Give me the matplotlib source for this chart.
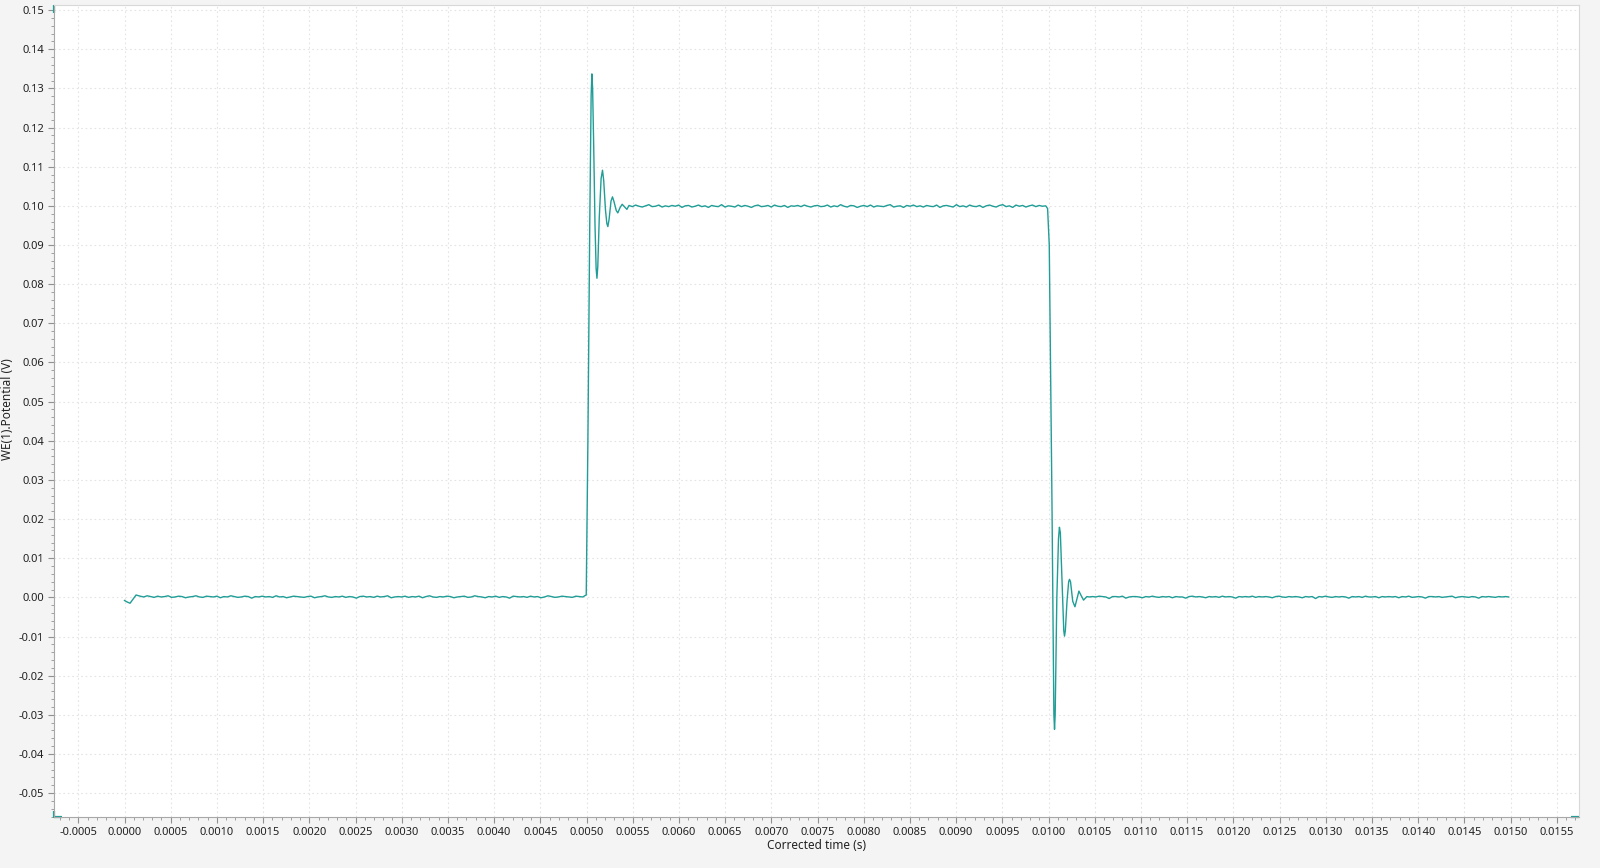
import numpy as np
import matplotlib
matplotlib.use("Agg")
import matplotlib.pyplot as plt
from matplotlib.ticker import MultipleLocator, FuncFormatter

plt.rcParams['font.family'] = ['Noto Sans', 'DejaVu Sans']

# ---- data ----
# start of record
start_t = [0.0, 0.00003, 0.00006, 0.000125]
start_v = [-0.0008, -0.0012, -0.0015, 0.0006]

# baseline 1 (0 V), noise in units of 1e-4 V
base1_level = 0.0001
base1_noise = [2, 0, 3, 1, -1, 2, 0, 1, 3, -1, 0, 2, 1, -2, 0, 1, 3, 0, -1, 2, 1, 0, 2, -2, 1, 0, 3,
               1, -1, 0, 2, 1, -3, 1, 0, 2, 0, 1, -1, 3, 0, 1, -2, 0, 2, 1, 0, -1, 1, 2, -2, 0, 1, 3,
               0, -1, 1, 0, 2, -1, 1, 0, -3, 1, 2, 0, 1, -1, 2, 0, 1, 3, -2, 0, 1, 0, 2, -1, 1, 0, 2,
               -2, 1, 3, 0, -1, 1, 0, 2, 1, -2, 0, 1, 2, -1, 0, 3, 1, 0, -2, 1, 0, 2, -1, 1, 0, -3, 2,
               1, 0, 1, -1, 2, 0, 1, -2, 0, 3, 1, -1, 0, 2, 1, 0, -1, 2, 1, 0]
base1_span = (0.00017, 0.00496)

# step up transient
up_t = [0.004987, 0.004997, 0.005015, 0.005035, 0.005050, 0.005058, 0.005066, 0.005078, 0.005092,
        0.005104, 0.005113, 0.005122, 0.005138, 0.005158, 0.005173, 0.005186, 0.005205, 0.005220,
        0.005231, 0.005244, 0.005265, 0.005281, 0.005296, 0.005322, 0.005339, 0.005362, 0.005386,
        0.005410, 0.005437]
up_v = [0.0005, 0.0006, 0.0400, 0.0950, 0.1280, 0.1337, 0.1300, 0.1150, 0.0950,
        0.0840, 0.0815, 0.0845, 0.0970, 0.1070, 0.1091, 0.1065, 0.0990, 0.0955,
        0.0947, 0.0965, 0.1012, 0.1023, 0.1012, 0.0988, 0.0982, 0.0995, 0.1004,
        0.0998, 0.0991]

# plateau (0.1 V)
plat_level = 0.0999
plat_noise = [2, -1, 3, 0, -2, 1, 4, -1, 0, 3, -2, 1, -1, 2, 0, 3, -3, 1, 2, -2, 0, 3, -1, 1, -3, 2,
              0, -1, 4, -2, 1, 0, -2, 3, -1, 2, 0, -3, 1, 3, -1, 0, 2, -2, 3, 0, -1, 2, -3, 1, 0, 2,
              -1, 3, 0, -2, 1, 2, -1, 0, 3, -2, 1, -1, 4, 0, -2, 2, 1, -3, 0, 2, -1, 3, -2, 1, 0, -1,
              2, 4, -2, 0, 1, -3, 2, 0, 3, -1, 1, -2, 2, 0, -1, 3, -3, 1, 2, 0, -2, 4, -1, 1, -2, 3,
              0, -1, 2, -3, 1, 3, 0, -2, 2, 4, -1, 1, -3, 3, 0, 2, -2, 1, 3, -1, 2, 0, 1]
plat_span = (0.00546, 0.00997)

# step down transient
down_t = [0.009990, 0.010008, 0.010037, 0.010058, 0.010065, 0.010072, 0.010090, 0.010108, 0.010118,
          0.010128, 0.010148, 0.010165, 0.010173, 0.010182, 0.010200, 0.010218, 0.010227, 0.010238,
          0.010262, 0.010286, 0.010306, 0.010329, 0.010352, 0.010379, 0.010415]
down_v = [0.0993, 0.0900, 0.0250, -0.0300, -0.0337, -0.0300, 0.0000, 0.0150, 0.0179,
          0.0165, 0.0030, -0.0085, -0.0099, -0.0085, -0.0010, 0.0040, 0.0046, 0.0040,
          -0.0010, -0.0024, -0.0005, 0.0016, 0.0005, -0.0007, 0.0002]

# baseline 2 (0 V)
base2_level = 0.0001
base2_noise = [0, 1, 0, 2, 1, 0, -4, 1, 1, 0, 2, -3, 0, 1, 1, 0, -2, 1, 0, 2, 0, -1, 1, 0, 1, -2, 1,
               0, 0, -3, 1, 2, 0, 1, 0, -2, 1, 0, 1, -1, 2, 0, 1, 0, -3, 1, 0, 1, 0, 2, -1, 1, 0, 1,
               0, -2, 1, 2, 0, -1, 1, 0, 1, 0, -2, 1, 0, 1, -4, 1, 0, 2, 0, -1, 1, 0, 1, 0, -3, 1, 0,
               1, -1, 2, 0, 0, 1, -2, 1, 0, 1, 0, 1, -2, 1, 0, 2, -1, 0, 1, 0, -3, 1, 1, 0, 1, -1, 0,
               1, 2, -2, 0, 1, 0, -1, 1, 0, -3, 1, 0, 1, 0, -1, 1, 0, 1, 0]
base2_span = (0.01044, 0.01498)

x_label = "Corrected time (s)"
y_label = "WE(1).Potential (V)"

# ---- assemble series ----
def seg(span, level, noise):
    t = np.linspace(span[0], span[1], len(noise))
    v = level + np.array(noise) * 1e-4
    return t, v

t1, v1 = seg(base1_span, base1_level, base1_noise)
t2, v2 = seg(plat_span, plat_level, plat_noise)
t3, v3 = seg(base2_span, base2_level, base2_noise)
t = np.concatenate([start_t, t1, up_t, t2, down_t, t3])
v = np.concatenate([start_v, v1, up_v, v2, down_v, v3])

# ---- figure ----
W, H = 1600, 868
fig = plt.figure(figsize=(16, 8.68), dpi=100, facecolor='#f4f4f4')
ax = fig.add_axes([54/W, 1-817/H, (1579-54)/W, (817-5)/H])
ax.set_facecolor('white')

line_col = '#1f9d96'
ax.plot(t, v, color=line_col, lw=1.0)

ax.set_xlim(-0.000763, 0.015741)
ax.set_ylim(-0.0561, 0.1513)

ax.xaxis.set_major_locator(MultipleLocator(0.0005))
ax.xaxis.set_minor_locator(MultipleLocator(0.0001))
ax.yaxis.set_major_locator(MultipleLocator(0.01))
ax.yaxis.set_minor_locator(MultipleLocator(0.002))

def fx(x, pos):
    s = f"{x:.4f}"
    return "0.0000" if s == "-0.0000" else s

def fy(y, pos):
    s = f"{y:.2f}"
    return "0.00" if s == "-0.00" else s

ax.xaxis.set_major_formatter(FuncFormatter(fx))
ax.yaxis.set_major_formatter(FuncFormatter(fy))

ax.grid(True, which='major', color='#e4e4e4', linestyle=(0, (1.5, 2.5)), linewidth=0.8)
ax.set_axisbelow(True)

for s in ['top', 'right']:
    ax.spines[s].set_color('#d8d8d8')
    ax.spines[s].set_linewidth(0.8)
for s in ['left', 'bottom']:
    ax.spines[s].set_color('#a8a8a8')
    ax.spines[s].set_linewidth(0.8)

ax.tick_params(which='major', length=4, width=0.8, color='#909090', labelsize=8, labelcolor='#222222', pad=3)
ax.tick_params(which='minor', length=2.5, width=0.7, color='#a0a0a0')

ax.set_xlabel(x_label, fontsize=8.5, color='#222222', labelpad=1)
fig.text(8/W, 1 - 409/H, y_label, rotation=90, ha='center', va='center',
         fontsize=8.5, color='#222222')

# teal corner markers
kw = dict(color=line_col, lw=1.6, clip_on=False, transform=ax.transAxes, solid_capstyle='butt')
ax.plot([0, 0], [1 - 8/812, 1], **kw)
ax.plot([0, 0, 8/1525], [6/812, 0, 0], **kw)
ax.plot([1 - 8/1525, 1], [0, 0], **kw)

fig.savefig("out.png", dpi=100, facecolor=fig.get_facecolor())
